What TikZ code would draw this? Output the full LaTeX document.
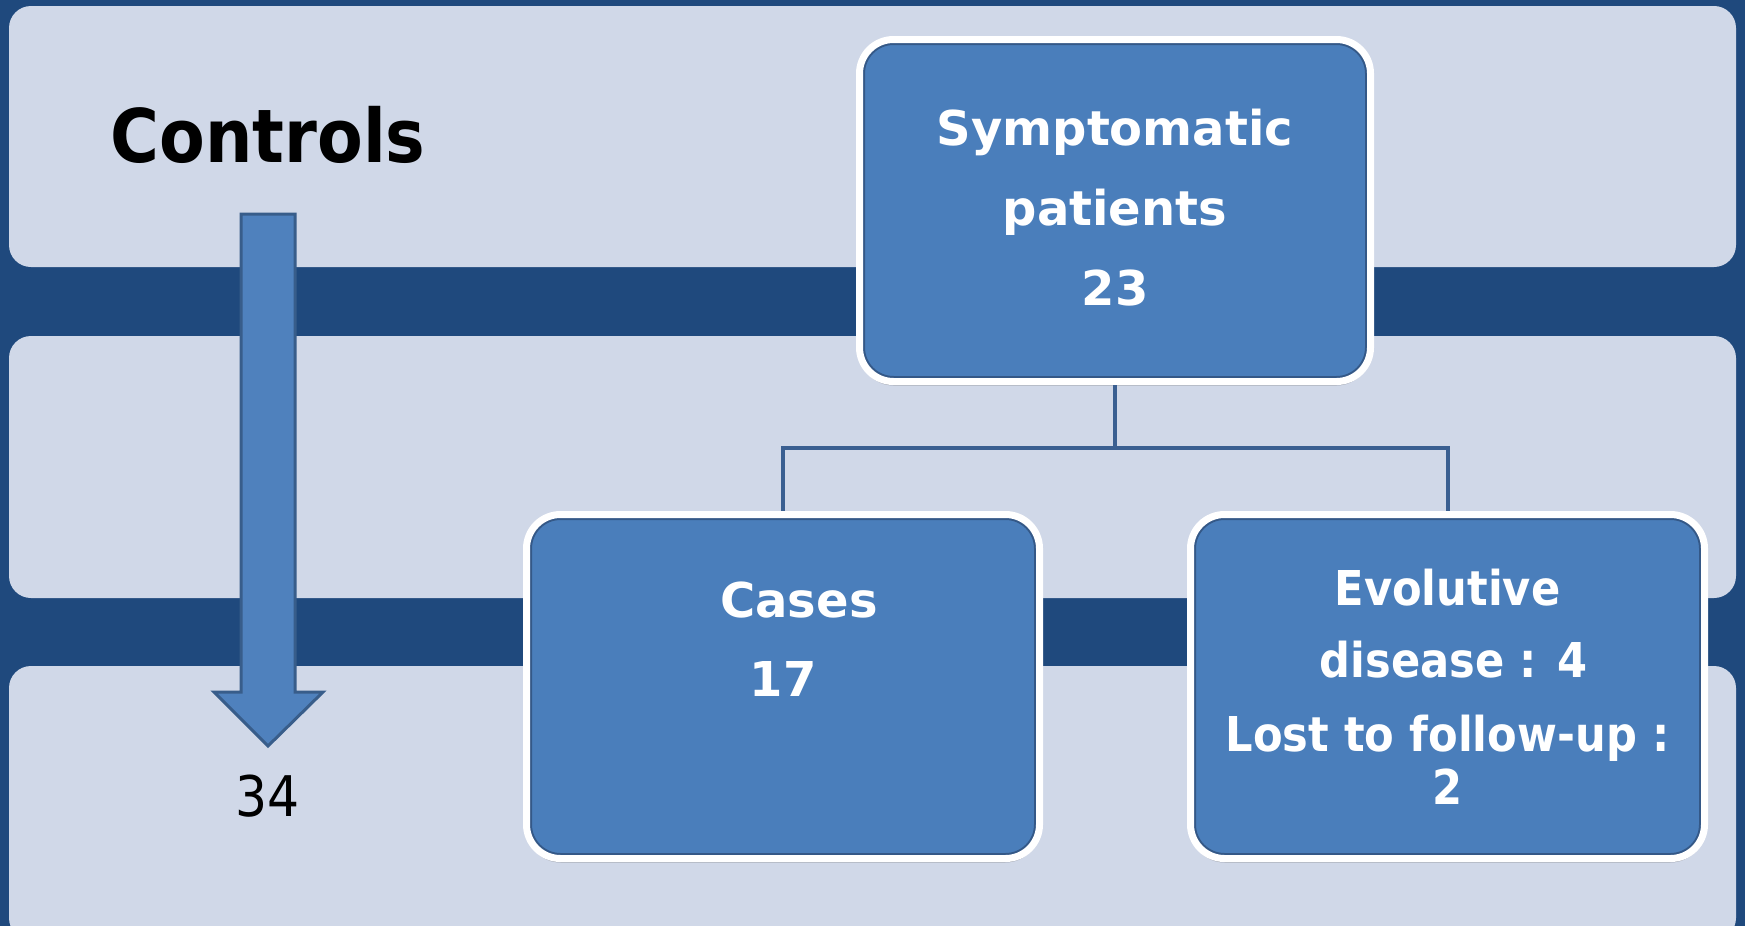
\documentclass[tikz,border=0pt]{standalone}
\usepackage{fontspec}
\newfontfamily\tah{DejaVu Sans}[FakeStretch=0.9]
\newfontfamily\tahw{DejaVu Sans}
\usetikzlibrary{calc,shadows}
\definecolor{bgdark}{RGB}{31,73,125}
\definecolor{band}{RGB}{208,216,232}
\definecolor{boxfill}{RGB}{74,126,187}
\definecolor{boxedge}{RGB}{52,88,135}
\definecolor{arrowfill}{RGB}{79,129,189}
\definecolor{arrowedge}{RGB}{56,93,138}
\definecolor{conncol}{RGB}{58,95,145}
\begin{document}
\begin{tikzpicture}[x=1pt,y=-1pt,
  bandbox/.style={fill=band, rounded corners=22pt},
  bx/.style={draw=white, line width=7pt, fill=boxfill, rounded corners=34pt,
    drop shadow={shadow xshift=0pt, shadow yshift=-4pt, opacity=0.25, fill=black},
    path picture={\draw[boxedge, line width=11pt, rounded corners=34pt]
      (path picture bounding box.south west) rectangle (path picture bounding box.north east);},
    text=white, align=center, inner sep=0pt},
  bxfont/.style={font=\tahw\bfseries\fontsize{48}{53}\selectfont},
  bxfontn/.style={font=\tah\bfseries\fontsize{48}{53}\selectfont},
  conn/.style={draw=conncol, line width=4pt}]
\useasboundingbox (0,0) rectangle (1745,926);
\fill[bgdark] (0,0) rectangle (1745,926);
\begin{scope}
  \clip (0,0) rectangle (1745,926);
  \fill[bandbox] (9,6) rectangle (1736,267);
  \fill[bandbox] (9,336) rectangle (1736,598);
  \fill[bandbox] (9,666) rectangle (1736,940);
\end{scope}

\node[font=\tah\bfseries\fontsize{74}{84}\selectfont] (ctl) at (268,135) {Controls};
\draw[fill=arrowfill, draw=arrowedge, line width=3pt]
  (241,214) -- (295,214) -- (295,692) -- (323,692) -- (268,746) -- (214,692) -- (241,692) -- cycle;
\node[font=\tah\fontsize{56}{60}\selectfont] (n34) at (268,796) {34};

\node[bx, bxfont, minimum width=511pt, minimum height=342pt] (sym) at (1115,210.5)
  {Symptomatic\\[27pt]patients\\[27pt]23\\[-47pt]\mbox{}};
\node[bx, bxfont, minimum width=513pt, minimum height=344pt] (cases) at (783,686.5)
  {\hspace*{32pt}Cases\\[26pt]17\\[26pt]\strut};
\node[bx, bxfontn, minimum width=514pt, minimum height=344pt] (evo) at (1447.5,686.5)
  {Evolutive\\[19pt]\hspace*{12pt}disease : 4\\[21pt]Lost to follow-up :\\2};

\coordinate (mid) at ($(sym.south)!0.5!(cases.north)$);
\draw[conn] (sym.south) -- (sym.south |- mid) -| (cases.north);
\draw[conn] (sym.south) -- (sym.south |- mid) -| (evo.north);
\end{tikzpicture}
\end{document}
